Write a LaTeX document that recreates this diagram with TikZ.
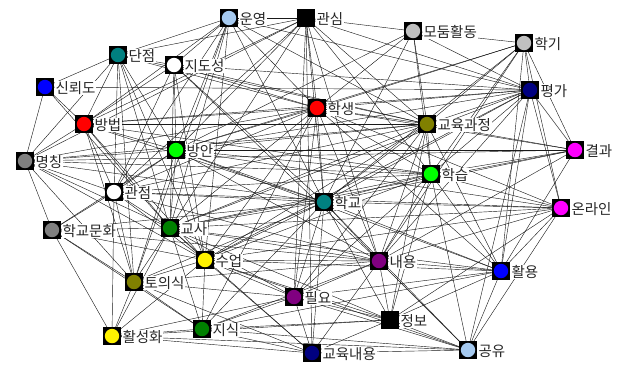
\documentclass[tikz,border=0pt]{standalone}
\usepackage{fontspec}
\newfontfamily\kr{Noto Sans CJK KR}
\usetikzlibrary{backgrounds,positioning}
\definecolor{lblue}{HTML}{A6CAF0}
\definecolor{silv}{HTML}{C0C0C0}
\definecolor{tealc}{HTML}{008080}
\definecolor{navyc}{HTML}{000080}
\definecolor{olivec}{HTML}{808000}
\definecolor{grayc}{HTML}{808080}
\definecolor{greenc}{HTML}{008000}
\definecolor{purplec}{HTML}{800080}
\definecolor{limec}{HTML}{00FF00}
\definecolor{magc}{HTML}{FF00FF}
\newcommand\kwnode[5]{\node[kw=#4] (#1) at (#2,#3) {}; \node[lbl, right=1pt of #1] (#1t) {#5};}
\begin{document}
\begin{tikzpicture}[x=1pt,y=-1pt,
  kw/.style={fill=black, minimum size=17.5pt, inner sep=0pt, outer sep=0pt,
    path picture={\fill[#1] (path picture bounding box.center) circle (7.2pt);}},
  lbl/.style={font=\kr\fontsize{14.5}{16}\selectfont, text=black!85, fill=white, inner sep=0.6pt, yshift=-1pt},
  edge/.style={line width=0.42pt, black!90}]
\useasboundingbox (0,0) rectangle (622,365);
\kwnode{un}{229}{18}{lblue}{운영}
\kwnode{gw}{306}{18}{black}{관심}
\kwnode{md}{413}{31}{silv}{모둠활동}
\kwnode{hg}{524}{43}{silv}{학기}
\kwnode{dj}{118}{55}{tealc}{단점}
\kwnode{jd}{174}{65}{white}{지도성}
\kwnode{sr}{45}{87}{blue}{신뢰도}
\kwnode{pg}{530}{90}{navyc}{평가}
\kwnode{bb}{84}{124}{red}{방법}
\kwnode{hs}{317}{108}{red}{학생}
\kwnode{gg}{427}{124}{olivec}{교육과정}
\kwnode{gr}{575}{150}{magc}{결과}
\kwnode{mc}{25}{161}{grayc}{명칭}
\kwnode{ba}{176}{150}{limec}{방안}
\kwnode{hp}{431}{174}{limec}{학습}
\kwnode{gj}{114}{192}{white}{관점}
\kwnode{ol}{561}{208}{magc}{온라인}
\kwnode{hk}{324}{202}{tealc}{학교}
\kwnode{hm}{52}{230}{grayc}{학교문화}
\kwnode{gs}{170}{228}{greenc}{교사}
\kwnode{su}{205}{260}{yellow}{수업}
\kwnode{ny}{379}{261}{purplec}{내용}
\kwnode{hy}{501}{271}{blue}{활용}
\kwnode{ts}{134}{282}{olivec}{토의식}
\kwnode{py}{294}{297}{purplec}{필요}
\kwnode{jb}{390}{320}{black}{정보}
\kwnode{hh}{112}{336}{yellow}{활성화}
\kwnode{js}{202}{329}{greenc}{지식}
\kwnode{gn}{312}{353}{navyc}{교육내용}
\kwnode{gy}{468}{350}{lblue}{공유}
\begin{pgfonlayer}{background}
\fill[white] (0,0) rectangle (622,365);
\foreach \a/\b in {un/gw,un/dj,un/bb,un/ba,un/gj,un/gs,un/su,un/hs,un/gg,un/hk,un/pg,un/ts,un/jd,
 gw/md,gw/hs,gw/gg,gw/hk,gw/py,gw/gn,gw/hp,gw/ny,gw/pg,gw/bb,gw/gj,gw/ba,gw/gs,gw/mc,gw/dj,
 md/hg,md/gg,md/hs,md/pg,md/hk,md/hp,md/ba,
 hg/pg,hg/gg,hg/hp,hg/hs,hg/hk,hg/gr,hg/hy,hg/ny,hg/ol,hg/ba,
 dj/sr,dj/jd,dj/bb,dj/mc,dj/ba,dj/gj,dj/gs,dj/su,dj/ts,dj/hs,dj/gg,
 jd/ba,jd/gs,jd/su,jd/hs,jd/pg,jd/hk,jd/ny,jd/gg,jd/bb,jd/gj,
 sr/mc,sr/bb,sr/pg,sr/gs,
 pg/gg,pg/hs,pg/gr,pg/hp,pg/hk,pg/ny,pg/hy,pg/ol,pg/gy,pg/ba,pg/gs,pg/bb,pg/su,
 bb/gg,bb/hs,bb/mc,bb/ba,bb/gj,bb/gs,bb/su,bb/ts,bb/hk,bb/hp,
 hs/ba,hs/gg,hs/hp,hs/hk,hs/gs,hs/su,hs/ny,hs/py,hs/gr,hs/ol,hs/hy,hs/js,hs/gj,hs/mc,
 gg/hp,gg/gr,gg/ba,gg/hk,gg/gs,gg/su,gg/ny,gg/hy,gg/py,gg/jb,gg/mc,gg/gj,
 gr/hp,gr/hk,gr/ba,gr/hy,gr/gs,gr/mc,gr/ny,
 mc/ba,mc/gj,mc/hm,mc/gs,mc/ts,mc/hp,mc/hk,mc/su,
 ba/hp,ba/gj,ba/hk,ba/gs,ba/su,ba/ol,ba/ny,ba/hy,ba/ts,ba/hm,
 hp/hk,hp/gs,hp/su,hp/ny,hp/hy,hp/ol,hp/py,hp/gy,hp/jb,
 gj/hm,gj/gs,gj/su,gj/ts,gj/hk,gj/hp,gj/ol,gj/ny,gj/hh,
 ol/hk,ol/gs,ol/ny,ol/hy,ol/gy,ol/jb,ol/su,
 hk/hm,hk/gs,hk/su,hk/ny,hk/hy,hk/ts,hk/py,hk/jb,hk/js,hk/gn,hk/gy,
 hm/gs,hm/ts,hm/hh,hm/su,hm/ny,hm/js,
 gs/su,gs/ny,gs/hy,gs/ts,gs/py,gs/jb,gs/js,gs/gn,gs/hh,
 su/ny,su/hy,su/ts,su/py,su/jb,su/js,su/gn,su/hh,su/gy,
 ny/hy,ny/py,ny/jb,ny/js,ny/gn,ny/gy,ny/ts,
 hy/py,hy/jb,hy/gy,hy/js,
 ts/hh,ts/js,ts/py,ts/gn,
 py/jb,py/js,py/gn,py/gy,py/hh,
 jb/js,jb/gn,jb/gy,jb/hh,
 hh/js,hh/gn,hh/gy,
 js/gn,js/gy,gn/gy}
 \draw[edge] (\a) -- (\b);
\end{pgfonlayer}
\end{tikzpicture}
\end{document}
